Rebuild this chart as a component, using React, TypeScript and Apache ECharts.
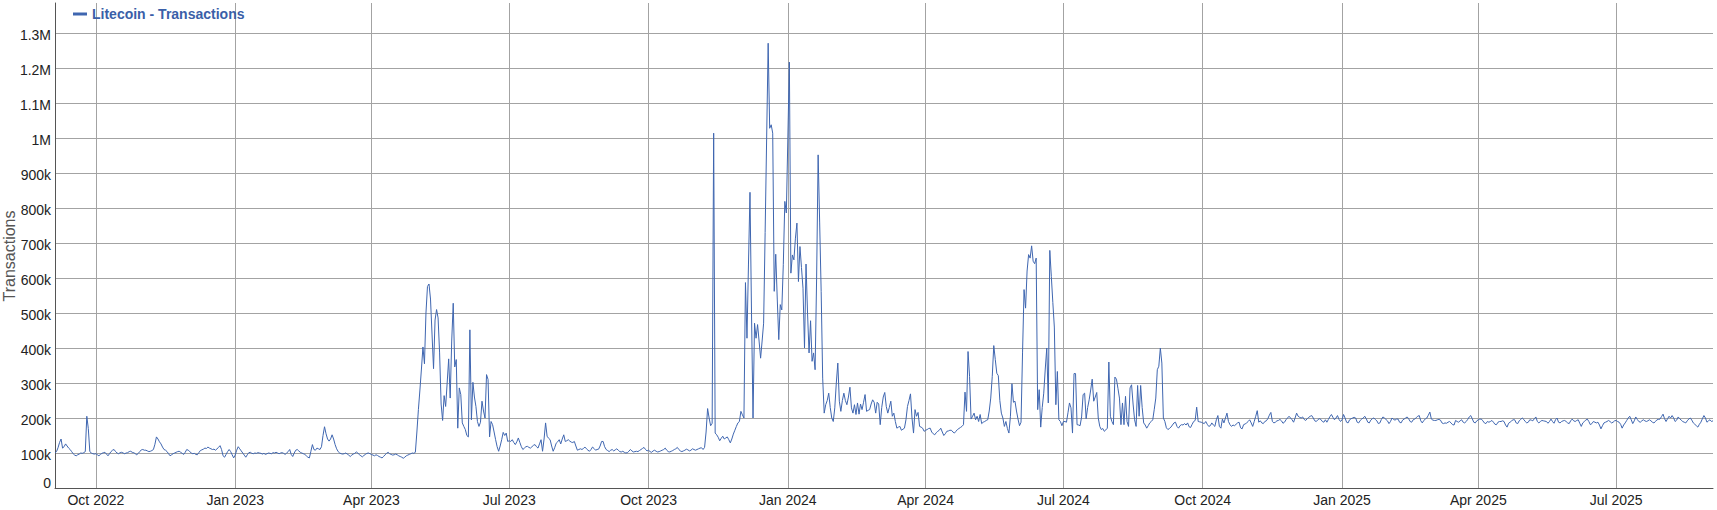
import React, { useEffect, useRef } from 'react';
import * as echarts from 'echarts';

// Daily Litecoin transactions, in thousands, starting 2022-09-04
const startDate = { year: 2022, month: 8, day: 4 };
const seriesName = 'Litecoin - Transactions';
const yAxisTitle = 'Transactions';
const quarterMonths = [0, 3, 6, 9];
const monthNames = ['Jan', 'Feb', 'Mar', 'Apr', 'May', 'Jun', 'Jul', 'Aug', 'Sep', 'Oct', 'Nov', 'Dec'];

const txSep2022 = [
  100, 104, 115, 130, 140, 114, 118, 126, 120, 114,
  110, 104, 98, 94, 92, 95, 97, 100, 99, 101,
  104, 205, 170, 104, 100, 98, 97,
];
const txQ4_2022 = [
  98, 95, 92, 96, 99, 101, 102, 97, 92, 98,
  104, 108, 110, 104, 100, 98, 101, 102, 100, 98,
  100, 101, 104, 105, 102, 101, 98, 95, 99, 104,
  109, 110, 108, 108, 106, 104, 105, 107, 110, 125,
  146, 140, 132, 126, 117, 110, 108, 104, 98, 92,
  95, 98, 100, 102, 104, 105, 102, 99, 96, 102,
  110, 108, 104, 100, 98, 99, 96, 95, 101, 107,
  109, 111, 114, 113, 117, 114, 112, 110, 111, 108,
  112, 116, 121, 110, 92, 88, 96, 104, 110, 104,
  95, 86,
];
const txQ1_2023 = [
  94, 108, 118, 112, 106, 100, 94, 88, 95, 101,
  102, 99, 98, 100, 99, 101, 100, 99, 97, 99,
  96, 98, 100, 99, 98, 101, 100, 102, 100, 98,
  100, 101, 99, 96, 100, 104, 110, 96, 90, 100,
  108, 110, 106, 102, 100, 98, 96, 92, 88, 86,
  105, 124, 110, 108, 114, 112, 110, 118, 150, 175,
  155, 140, 134, 140, 152, 140, 124, 112, 104, 100,
  98, 97, 98, 100, 97, 94, 90, 94, 97, 99,
  103, 100, 95, 92, 89, 93, 96, 99, 100, 98,
];
const txQ2_2023 = [
  96, 94, 92, 95, 93, 90, 88, 86, 90, 95,
  99, 102, 98, 96, 94, 95, 97, 95, 92, 90,
  88, 85, 88, 92, 94, 96, 98, 100, 99, 102,
  160, 224, 280, 340, 403, 355, 500, 576, 583, 540,
  440, 341, 480, 510, 486, 386, 240, 193, 264, 233,
  300, 369, 257, 420, 528, 346, 367, 171, 286, 267,
  186, 176, 167, 150, 146, 452, 195, 302, 260, 233,
  190, 176, 188, 248, 220, 200, 324, 310, 146, 190,
  181, 160, 138, 118, 105, 120, 138, 159, 150, 157,
  133,
];
const txQ3_2023 = [
  135, 133, 138, 130, 124, 132, 143, 130, 118, 110,
  114, 118, 119, 116, 114, 118, 122, 124, 118, 114,
  126, 138, 105, 140, 186, 148, 142, 138, 120, 105,
  115, 128, 132, 138, 126, 140, 152, 133, 135, 138,
  134, 131, 130, 133, 120, 108, 110, 112, 110, 113,
  117, 112, 108, 105, 110, 117, 113, 108, 110, 111,
  120, 133, 133, 118, 110, 107, 104, 108, 110, 106,
  109, 112, 108, 104, 103, 105, 102, 100, 101, 105,
  110, 106, 103, 104, 105, 104, 107, 110, 113, 116,
  110, 106,
];
const txQ4_2023 = [
  108, 104, 102, 106, 108, 105, 103, 104, 106, 108,
  110, 114, 108, 104, 103, 105, 107, 110, 112, 116,
  110, 106, 104, 106, 108, 111, 109, 106, 108, 112,
  110, 108, 110, 112, 114, 115, 110, 116, 160, 227,
  200, 178, 185, 1014, 157, 152, 145, 135, 142, 148,
  140, 143, 146, 138, 129, 140, 154, 165, 176, 186,
  190, 219, 209, 200, 587, 428, 640, 845, 500, 200,
  471, 428, 467, 420, 371, 420, 471, 730, 1000, 1271,
  1028, 1038, 1014, 562, 668, 540, 424, 524, 509, 638,
  819, 786,
];
const txQ1_2024 = [
  1000, 1217, 614, 666, 652, 714, 757, 590, 690, 630,
  571, 400, 640, 500, 386, 478, 362, 386, 338, 600,
  952, 760, 562, 314, 214, 238, 250, 271, 230, 200,
  190, 229, 300, 357, 248, 219, 250, 271, 250, 238,
  260, 288, 229, 214, 238, 210, 243, 211, 240, 224,
  245, 267, 219, 222, 224, 240, 252, 245, 214, 245,
  240, 181, 230, 260, 273, 233, 214, 230, 248, 205,
  214, 190, 171, 174, 176, 165, 168, 171, 195, 233,
  250, 269, 200, 157, 224, 205, 216, 176, 174, 171,
  162,
];
const txQ2_2024 = [
  165, 167, 170, 171, 160, 155, 152, 158, 162, 165,
  171, 160, 150, 155, 162, 163, 165, 165, 160, 157,
  162, 167, 170, 173, 176, 181, 274, 219, 390, 319,
  197, 205, 214, 195, 205, 190, 210, 184, 188, 190,
  193, 195, 220, 257, 319, 407, 367, 328, 321, 250,
  214, 200, 176, 190, 170, 157, 205, 298, 245, 248,
  220, 197, 178, 188, 386, 567, 514, 620, 667, 657,
  692, 648, 641, 657, 224, 281, 174, 230, 271, 340,
  400, 243, 679, 605, 530, 460, 238, 333, 195, 190,
  178,
];
const txQ3_2024 = [
  190, 190, 188, 215, 243, 229, 157, 327, 327, 181,
  180, 178, 203, 267, 271, 198, 230, 252, 280, 311,
  248, 260, 273, 200, 176, 167, 170, 162, 166, 171,
  360, 205, 190, 181, 317, 311, 285, 257, 181, 243,
  181, 262, 190, 176, 286, 295, 240, 195, 176, 293,
  205, 293, 230, 186, 180, 171, 178, 186, 190, 195,
  225, 257, 338, 348, 400, 357, 200, 190, 172, 167,
  170, 174, 180, 186, 188, 176, 171, 178, 181, 180,
  184, 180, 186, 175, 173, 182, 190, 193, 231, 190,
  189, 188,
];
const txQ4_2024 = [
  186, 184, 190, 182, 176, 178, 186, 180, 176, 195,
  207, 176, 171, 197, 186, 200, 214, 190, 181, 176,
  180, 178, 182, 186, 188, 172, 169, 181, 183, 186,
  190, 195, 186, 176, 190, 205, 221, 188, 192, 186,
  184, 190, 192, 198, 208, 216, 190, 186, 188, 192,
  193, 196, 192, 185, 188, 195, 200, 205, 200, 195,
  188, 200, 214, 205, 202, 200, 203, 196, 193, 198,
  202, 205, 207, 200, 192, 190, 195, 198, 196, 190,
  188, 195, 188, 196, 204, 210, 202, 195, 200, 207,
  196, 190,
];
const tx2025 = [
  195, 210, 200, 188, 186, 195, 198, 200, 202, 200,
  188, 186, 193, 197, 200, 205, 198, 188, 186, 194,
  198, 200, 196, 192, 184, 186, 196, 203, 200, 196,
  192, 184, 190, 200, 196, 194, 197, 197, 188, 186,
  194, 197, 200, 203, 198, 190, 188, 195, 197, 201,
  205, 207, 192, 186, 193, 197, 200, 208, 217, 197,
  194, 193, 193, 195, 196, 194, 186, 184, 186, 185,
  188, 190, 186, 181, 180, 193, 190, 188, 192, 195,
  188, 186, 190, 196, 203, 207, 198, 188, 186, 192,
  195, 197, 197, 192, 186, 184, 190, 188, 190, 193,
  188, 182, 181, 188, 190, 190, 192, 190, 180, 174,
  185, 188, 192, 195, 195, 186, 184, 192, 196, 200,
  196, 190, 186, 188, 195, 194, 192, 198, 203, 190,
  186, 190, 193, 192, 191, 190, 185, 190, 197, 190,
  185, 195, 200, 188, 186, 190, 192, 193, 190, 186,
  184, 192, 197, 192, 190, 193, 195, 185, 176, 186,
  190, 194, 197, 190, 181, 184, 190, 188, 186, 188,
  180, 169, 178, 186, 188, 190, 193, 190, 186, 188,
  192, 193, 190, 188, 182, 171, 180, 186, 193, 200,
  205, 195, 184, 192, 203, 196, 190, 188, 192, 195,
  192, 190, 192, 195, 192, 188, 186, 190, 195, 196,
  197, 204, 211, 198, 190, 198, 205, 200, 207, 200,
  190, 194, 203, 198, 194, 190, 188, 186, 192, 197,
  200, 194, 186, 182, 178, 174, 182, 188, 198, 207,
  200, 188, 192, 195, 190, 192,
];

const FONT = "'Liberation Sans', Arial, Helvetica, sans-serif";

export default function App() {
  const ref = useRef<HTMLDivElement>(null);

  useEffect(() => {
    if (!ref.current) return;
    const chart = echarts.init(ref.current, null, { renderer: 'svg' });

    const valuesK = [
      ...txSep2022, ...txQ4_2022, ...txQ1_2023, ...txQ2_2023, ...txQ3_2023,
      ...txQ4_2023, ...txQ1_2024, ...txQ2_2024, ...txQ3_2024, ...txQ4_2024, ...tx2025,
    ];
    const values = valuesK.map((v) => v * 1000);
    const t0 = Date.UTC(startDate.year, startDate.month, startDate.day);
    const dates = values.map((_, i) => new Date(t0 + i * 86400000).toISOString().slice(0, 10));

    const isQuarterStart = (_idx: number, value: string) => {
      const m = parseInt(value.slice(5, 7), 10) - 1;
      return value.slice(8, 10) === '01' && quarterMonths.indexOf(m) >= 0;
    };
    const fmtDate = (value: string) => {
      const m = parseInt(value.slice(5, 7), 10) - 1;
      return monthNames[m] + ' ' + value.slice(0, 4);
    };
    const fmtVal = (v: number) => {
      if (v === 0) return '{z|0}';
      if (v >= 1000000) return '{n|' + (v / 1000000) + 'M}';
      return '{n|' + (v / 1000) + 'k}';
    };
    const labelText = { fontSize: 14, color: '#222222', fontFamily: FONT };

    chart.setOption({
      animation: false,
      backgroundColor: '#ffffff',
      grid: { left: 55, right: 4, top: 3, bottom: 22, containLabel: false, outerBoundsMode: 'none' },
      legend: {
        show: true,
        left: 73,
        top: 7,
        padding: 0,
        icon: 'rect',
        itemWidth: 14,
        itemHeight: 3,
        selectedMode: false,
        textStyle: { color: '#3a5fa8', fontWeight: 'bold', fontSize: 14, fontFamily: FONT },
        data: [seriesName],
      },
      graphic: [
        {
          type: 'text',
          x: 9,
          y: 256,
          rotation: Math.PI / 2,
          style: {
            text: yAxisTitle,
            fill: '#555555',
            font: '16px ' + FONT,
            align: 'center',
            verticalAlign: 'middle',
          },
        },
      ],
      xAxis: {
        type: 'category',
        data: dates,
        boundaryGap: false,
        axisLine: { show: true, lineStyle: { color: '#555555', width: 1 } },
        axisTick: { show: false },
        axisLabel: {
          interval: isQuarterStart,
          formatter: fmtDate,
          ...labelText,
          margin: 5,
        },
        splitLine: { show: true, interval: isQuarterStart, lineStyle: { color: '#a3a3a3', width: 1 } },
      },
      yAxis: {
        type: 'value',
        min: 0,
        max: 1386000,
        interval: 100000,
        axisLine: { show: true, lineStyle: { color: '#555555', width: 1 } },
        axisTick: { show: false },
        axisLabel: {
          showMaxLabel: false,
          formatter: fmtVal,
          ...labelText,
          margin: 4,
          rich: {
            n: { ...labelText, padding: [4, 0, 0, 0] },
            z: { ...labelText, padding: [0, 0, 10, 0] },
          },
        },
        splitLine: { show: true, showMaxLine: false, lineStyle: { color: '#a3a3a3', width: 1 } },
      },
      series: [
        {
          name: seriesName,
          type: 'line',
          data: values,
          showSymbol: false,
          symbol: 'none',
          lineStyle: { color: '#3f66b0', width: 1 },
          itemStyle: { color: '#3f66b0' },
          emphasis: { disabled: true },
        },
      ],
    });

    return () => chart.dispose();
  }, []);

  return (
    <div
      ref={ref}
      style={{ position: 'fixed', left: 0, top: 0, width: '1717px', height: '510px', background: '#fff' }}
    />
  );
}
